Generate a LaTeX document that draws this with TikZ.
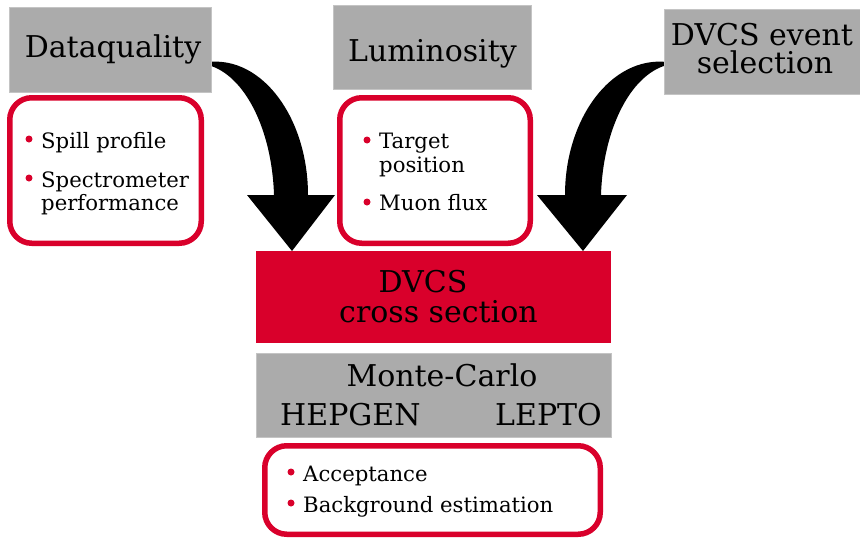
\documentclass[tikz,border=0pt]{standalone}
\usepackage{fontspec}
\setmainfont{DejaVu Serif}
\usetikzlibrary{calc}
\definecolor{boxgray}{RGB}{171,171,171}
\definecolor{edgegray}{RGB}{196,196,196}
\definecolor{mred}{RGB}{217,0,43}
\begin{document}
\begin{tikzpicture}[x=1pt,y=-1pt,
  graybox/.style={fill=boxgray,draw=edgegray,line width=0.8pt,inner sep=0pt},
  redfill/.style={fill=mred,inner sep=0pt},
  listbox/.style={draw=mred,line width=5.5pt,rounded corners=22pt,fill=white,inner sep=0pt},
  bigtext/.style={inner sep=0pt,anchor=base,font=\fontsize{30}{30}\selectfont},
  midtext/.style={inner sep=0pt,anchor=base,font=\fontsize{30}{30}\selectfont},
  itemtext/.style={inner sep=0pt,anchor=base west,font=\fontsize{21.2}{21.2}\selectfont},
  bul/.style={fill=mred,draw=none}]
\useasboundingbox (0,0) rectangle (860,538);

% arrows (drawn first, boxes lie over their start)
\coordinate (s1) at (208,62);
\coordinate (t1) at (292,251);
\coordinate (s2) at (667,62);
\coordinate (t2) at (583,251);
\fill[black] (s1) .. controls (263,56) and (308,119) .. (308,195) -- (335,195) -- (t1) -- (247,195) -- (274,195)
   .. controls (272,130) and (245,75) .. ([yshift=-3pt]s1) -- cycle;
\fill[black] (s2) .. controls (611,56) and (565,119) .. (565,195) -- (537,195) -- (t2) -- (627,195) -- (601,195)
   .. controls (603,130) and (630,75) .. ([yshift=-3pt]s2) -- cycle;

% gray header boxes
\node[graybox,minimum width=202pt,minimum height=85pt] (dq) at (110,49.5) {};
\node[graybox,minimum width=198pt,minimum height=84pt] (lum) at (432,47) {};
\node[graybox,minimum width=198pt,minimum height=85pt] (sel) at (763,51.5) {};
\node[bigtext] (dqt) at (113,57.3) {Dataquality};
\node[bigtext] (lumt) at (432.5,61.7) {Luminosity};
\node[bigtext] (selt1) at (762,45.7) {DVCS event};
\node[bigtext] (selt2) at (765,73) {selection};

% list boxes
\node[listbox,minimum width=191.5pt,minimum height=145.5pt] (r1) at (105.5,170.5) {};
\node[listbox,minimum width=190.5pt,minimum height=145.5pt] (r2) at (435,170.5) {};
\node[listbox,minimum width=335.5pt,minimum height=88.5pt] (r3) at (432.5,490) {};

\fill[bul] (29,139) circle (3.5);
\fill[bul] (29,178) circle (3.5);
\node[itemtext] (i1) at (41,148) {Spill profile};
\node[itemtext] (i2) at (41,187) {Spectrometer};
\node[itemtext] (i2b) at (41,210) {performance};

\fill[bul] (367,140) circle (3.5);
\fill[bul] (367,202) circle (3.5);
\node[itemtext] (i3) at (379,148) {Target};
\node[itemtext] (i3b) at (379,172) {position};
\node[itemtext] (i4) at (379,210) {Muon flux};

\fill[bul] (291,472) circle (3.5);
\fill[bul] (291,503) circle (3.5);
\node[itemtext] (i5) at (303,481) {Acceptance};
\node[itemtext] (i6) at (303,512) {Background estimation};

% central boxes
\node[redfill,minimum width=355pt,minimum height=92pt] (xs) at (433.5,297) {};
\node[midtext] (xst1) at (423,292.7) {DVCS};
\node[midtext] (xst2) at (438.5,322.7) {cross section};

\node[graybox,minimum width=355pt,minimum height=84pt] (mc) at (433.5,395) {};
\node[midtext] (mct) at (442,386.7) {Monte-Carlo};
\node[midtext,anchor=base west] (hep) at (280,425) {HEPGEN};
\node[midtext,anchor=base west] (lep) at (495,425) {LEPTO};
\end{tikzpicture}
\end{document}
